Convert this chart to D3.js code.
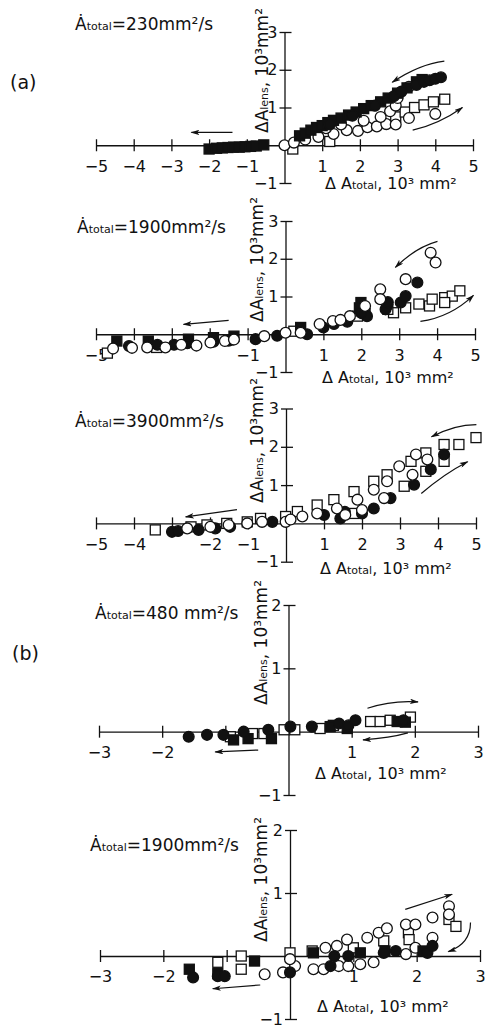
<!DOCTYPE html>
<meta charset="utf-8">
<style>
body { margin: 0; background: #fff; }
svg text { font-family: "DejaVu Sans", sans-serif; fill: #111; }
.axis path, .axis line { stroke: #111; stroke-width: 1.3; }
.pt { stroke: #111; stroke-width: 1.3; }
.arrow { fill: none; stroke: #111; stroke-width: 1.2; }
</style>
<svg width="485" height="1028"></svg>
<script src="https://d3js.org/d3.v7.min.js"></script>
<script>

// rates written in the panel titles
var rates = ["230", "1900", "3900", "480 ", "1900"];

// (a) 230 mm2/s
var p1FilledSq = [[-2.0,-0.1],[-1.8,-0.08],[-1.65,-0.07],[-1.5,-0.06],[-1.35,-0.05],[-1.2,-0.05],[-1.05,-0.04],[-0.9,-0.03],[-0.75,-0.02],[-0.55,0.01],
  [0.4,0.25],[0.55,0.32],[0.7,0.4],[0.85,0.47],[1.0,0.52],[1.15,0.6],[1.3,0.66],[1.5,0.72],[1.7,0.8],[1.9,0.88],[2.1,0.97],[2.3,1.05],[2.55,1.15],[2.75,1.25],[3.0,1.38],[3.25,1.52],[3.5,1.68],[3.65,1.74]];
var p1FilledCi = [[1.2,0.55],[1.8,0.78],[2.4,1.05],[2.9,1.3],[3.1,1.42],[3.5,1.6],[3.7,1.68],[3.85,1.72],[4.0,1.76],[4.15,1.8]];
var p1OpenSq = [[0.22,-0.1],[1.2,0.1],[2.95,0.75],[3.2,0.88],[3.45,1.0],[3.7,1.07],[3.95,1.15],[4.25,1.22]];
var p1OpenCi = [[0,0],[0.25,0.07],[0.55,0.15],[0.9,0.22],[1.3,0.3],[1.65,0.4],[1.95,0.38],[2.2,0.48],[2.45,0.5],[2.7,0.56],[2.95,0.55],[2.55,0.75],[2.8,0.9],[2.95,1.05],[3.0,1.25],[3.3,1.55],[3.3,0.72],[4.0,0.83],[1.1,0.45],[1.5,0.55],[2.1,0.65]];
var p1Arrows = [[[-1.38,0.34],[-2.47,0.34]], [[4.24,2.23],[3.58,2.15],[2.86,1.67]], [[3.4,0.4],[4.1,0.56],[4.72,1.0]]];

// (a) 1900 mm2/s
var p2FilledSq = [[-4.45,-0.18],[-3.62,-0.18],[-2.56,-0.13],[-1.9,-0.09],[-1.36,-0.05],[0.4,0.18],[1.99,0.84],[1.95,0.7],[2.1,0.55]];
var p2FilledCi = [[-4.13,-0.31],[-3.38,-0.28],[-2.94,-0.28],[-2.59,-0.24],[-1.9,-0.2],[-1.5,-0.17],[-0.79,-0.13],[-0.22,-0.04],[0.57,0.0],[1.0,0.18],[1.28,0.27],[1.63,0.33],[2.15,0.48],[2.68,0.75],[3.04,0.84],[3.17,1.01],[3.48,1.37],[2.64,0.66],[1.99,0.57],[2.7,0.85]];
var p2OpenSq = [[-4.7,-0.5],[-3.4,-0.35],[-1.5,-0.15],[0.22,0.08],[1.9,0.48],[2.85,0.57],[3.17,0.7],[3.52,0.8],[3.8,0.75],[3.87,0.93],[4.2,0.97],[4.4,1.01],[4.6,1.15],[4.2,0.84],[2.7,0.66]];
var p2OpenCi = [[-4.55,-0.38],[-4.05,-0.36],[-3.65,-0.35],[-3.17,-0.35],[-2.75,-0.28],[-2.35,-0.3],[-1.98,-0.22],[-1.6,-0.18],[-1.36,-0.14],[-0.56,-0.05],[0.0,0.04],[0.4,0.04],[0.9,0.27],[1.25,0.35],[1.7,0.48],[2.1,0.75],[2.5,1.19],[2.5,0.93],[3.17,1.46],[3.83,2.16],[3.96,1.9],[1.45,0.38]];
var p2Arrows = [[[-1.5,0.37],[-2.69,0.26]], [[4.01,2.46],[3.43,2.3],[2.9,1.77]], [[3.56,0.34],[4.35,0.45],[4.96,1.03]]];

// (a) 3900 mm2/s
var p3FilledCi = [[-3.0,-0.22],[-2.84,-0.2],[-2.3,-0.17],[-1.86,-0.13],[-1.47,-0.09],[-0.36,0.04],[1.0,0.22],[1.43,0.13],[2.0,0.26],[2.31,0.39],[2.75,0.66],[3.37,1.01],[3.81,1.41],[4.16,1.8],[1.55,0.3]];
var p3OpenSq = [[-3.44,-0.17],[-2.5,-0.09],[-2.08,-0.04],[-1.56,0.0],[-1.02,0.04],[-0.67,0.13],[-0.01,0.18],[0.3,0.31],[0.82,0.48],[1.26,0.62],[1.79,0.83],[2.31,1.1],[2.66,1.27],[3.29,1.62],[3.68,1.84],[4.16,2.06],[4.55,2.06],[5.0,2.24],[3.11,0.97],[3.68,1.36],[4.16,1.62],[1.79,0.26]];
var p3OpenCi = [[-2.6,-0.13],[-1.99,-0.09],[-1.51,-0.04],[-1.02,0.0],[-0.63,0.04],[-0.01,0.04],[0.12,0.1],[0.43,0.18],[0.82,0.26],[1.34,0.39],[1.56,0.22],[1.88,0.62],[2.0,0.35],[2.31,0.88],[2.58,0.66],[2.66,1.1],[2.98,1.49],[3.33,1.27],[3.42,1.8],[3.72,1.67]];
var p3Arrows = [[[-1.29,0.36],[-2.64,0.17]], [[5.01,2.58],[4.43,2.58],[3.83,2.26]], [[3.56,0.78],[4.17,1.3],[4.78,1.61]]];

// (b) 480 mm2/s
var p4FilledCi = [[-1.58,-0.08],[-1.29,-0.05],[-1.03,-0.05],[-0.71,0.0],[-0.32,0.03],[0.03,0.08],[0.37,0.08],[0.8,0.13],[0.95,0.1],[1.06,0.18],[1.82,0.18]];
var p4FilledSq = [[-0.87,-0.13],[-0.64,-0.11],[-0.27,-0.11],[0.66,0.08],[0.93,0.05],[1.72,0.16],[1.85,0.15]];
var p4OpenSq = [[-0.92,-0.08],[-0.57,-0.03],[-0.39,-0.03],[-0.07,0.03],[0.1,0.03],[0.5,0.05],[0.71,0.1],[1.3,0.16],[1.45,0.16],[1.61,0.18],[1.93,0.23]];
var p4Arrows = [[[1.25,0.37],[1.64,0.5],[2.05,0.47]], [[1.89,-0.02],[1.61,-0.1],[1.18,-0.13]], [[-0.48,-0.29],[-1.16,-0.32]]];

// (b) 1900 mm2/s
var p5FilledSq = [[-1.59,-0.21],[-1.14,-0.28],[-0.56,-0.08],[0.37,0.05],[1.11,0.05],[1.5,0.08],[2.1,0.08]];
var p5FilledCi = [[-1.53,-0.34],[-1.14,-0.32],[-1.03,-0.32],[0.0,-0.26],[0.64,-0.16],[0.7,0.0],[0.92,0.0],[1.48,0.05],[1.67,0.08],[2.17,0.05],[2.25,0.16]];
var p5OpenSq = [[-1.14,-0.1],[-0.77,0.0],[-0.77,-0.21],[0.0,0.05],[0.35,0.08],[1.0,0.13],[1.48,0.24],[1.87,0.37],[1.88,0.26],[2.51,0.58],[2.62,0.47]];
var p5OpenCi = [[-0.4,-0.29],[-0.11,-0.26],[0.08,-0.16],[0.0,-0.05],[0.37,-0.21],[0.53,-0.21],[0.56,0.13],[0.74,0.16],[0.77,-0.16],[0.9,0.26],[0.92,-0.16],[1.11,-0.13],[1.22,0.29],[1.32,-0.1],[1.4,0.37],[1.53,0.44],[1.83,0.5],[1.98,0.5],[1.83,0.03],[1.98,0.13],[2.25,0.61],[2.25,0.29],[2.51,0.79],[2.51,0.66]];
var p5Arrows = [[[1.82,0.74],[2.56,0.98]], [[2.85,0.53],[2.85,0.19],[2.5,0.07]], [[-0.47,-0.46],[-1.22,-0.52]]];

// ticks and which of them carry a label
var xTicksA = [-5,-4,-3,-2,-1,1,2,3,4,5];
var xTicksB = [-3,-2,-1,1,2,3];
var p1XLabels = [-5,-4,-3,-2,-1,1,2,3,4,5];
var p2XLabels = [-5,-1,1,2,3,4,5];
var p3XLabels = [-5,-4,-2,-1,1,2,3,4,5];
var bXLabels = [-3,-2,1,2,3];
var yTicksA = [-1,1,2,3];
var yTicksB = [-1,1,2];

var svg = d3.select("svg");

svg.append("defs").append("marker")
    .attr("id", "head")
    .attr("viewBox", "0 0 10 6")
    .attr("refX", 9).attr("refY", 3)
    .attr("markerWidth", 9).attr("markerHeight", 5.5)
    .attr("markerUnits", "userSpaceOnUse")
    .attr("orient", "auto")
  .append("path")
    .attr("d", "M0,0L10,3L0,6L2.5,3Z")
    .attr("fill", "#111");

var panels = [
  {xd: [-5,5], xr: [96,473], yd: [-1,3], yr: [183,32], xt: xTicksA, xl: p1XLabels, yt: yTicksA,
   title: [75,30], ylab: [268,133], xlab: [325,189], rate: rates[0],
   sets: [[p1OpenSq,"sq",false],[p1OpenCi,"ci",false],[p1FilledSq,"sq",true],[p1FilledCi,"ci",true]], arrows: p1Arrows},
  {xd: [-5,5], xr: [96,475], yd: [-1,3], yr: [372,221], xt: xTicksA, xl: p2XLabels, yt: yTicksA,
   title: [77,233], ylab: [263,322], xlab: [322,383], rate: rates[1],
   sets: [[p2OpenSq,"sq",false],[p2FilledSq,"sq",true],[p2FilledCi,"ci",true],[p2OpenCi,"ci",false]], arrows: p2Arrows},
  {xd: [-5,5], xr: [96,476], yd: [-1,3], yr: [561.7,408.5], xt: xTicksA, xl: p3XLabels, yt: yTicksA,
   title: [75,427], ylab: [263,503], xlab: [320,574], rate: rates[2],
   sets: [[p3OpenSq,"sq",false],[p3FilledCi,"ci",true],[p3OpenCi,"ci",false]], arrows: p3Arrows},
  {xd: [-3,3], xr: [99,478], yd: [-1,2], yr: [795,605], xt: xTicksB, xl: bXLabels, yt: yTicksB,
   title: [95,619], ylab: [267,705], xlab: [315,779], rate: rates[3],
   sets: [[p4OpenSq,"sq",false],[p4FilledSq,"sq",true],[p4FilledCi,"ci",true]], arrows: p4Arrows},
  {xd: [-3,3], xr: [100,480], yd: [-1,2], yr: [1019,830], xt: xTicksB, xl: bXLabels, yt: yTicksB,
   title: [90,851], ylab: [267,942], xlab: [317,1012], rate: rates[4],
   sets: [[p5OpenSq,"sq",false],[p5OpenCi,"ci",false],[p5FilledSq,"sq",true],[p5FilledCi,"ci",true]], arrows: p5Arrows}
];

function fmt(d) { return d < 0 ? "\u2212" + (-d) : "" + d; }

panels.forEach(function(p) {
  var x = d3.scaleLinear().domain(p.xd).range(p.xr),
      y = d3.scaleLinear().domain(p.yd).range(p.yr),
      g = svg.append("g");

  var gx = g.append("g").attr("class", "axis")
      .attr("transform", "translate(0," + y(0) + ")")
      .call(d3.axisBottom(x).tickValues(p.xt).tickSize(6).tickSizeOuter(0).tickPadding(9)
        .tickFormat(function(d) { return p.xl.indexOf(d) >= 0 ? fmt(d) : ""; }));
  gx.attr("font-size", 16).attr("font-family", null);
  gx.selectAll(".tick line").attr("y1", -6);

  var gy = g.append("g").attr("class", "axis")
      .attr("transform", "translate(" + x(0) + ",0)")
      .call(d3.axisLeft(y).tickValues(p.yt).tickSize(5).tickSizeOuter(0).tickPadding(2).tickFormat(fmt));
  gy.attr("font-size", 16).attr("font-family", null);
  gy.selectAll(".tick line").attr("x1", 7);

  // title
  var t = g.append("text").attr("x", p.title[0]).attr("y", p.title[1]).attr("font-size", 17);
  t.append("tspan").text("\u0226");
  t.append("tspan").attr("font-size", 11).text("total");
  t.append("tspan").text("=" + p.rate + "mm\u00b2/s");

  // axis titles
  var yl = g.append("text").attr("font-size", 17)
      .attr("transform", "translate(" + p.ylab[0] + "," + p.ylab[1] + ") rotate(-90)");
  yl.append("tspan").text("\u0394A");
  yl.append("tspan").attr("font-size", 11).text("lens");
  yl.append("tspan").text(", 10\u00b3mm\u00b2");

  var xl = g.append("text").attr("font-size", 16).attr("x", p.xlab[0]).attr("y", p.xlab[1]);
  xl.append("tspan").text("\u0394 A");
  xl.append("tspan").attr("font-size", 11).text("total");
  xl.append("tspan").text(", 10\u00b3 mm\u00b2");

  // arrows
  g.selectAll(".arrow").data(p.arrows).enter().append("path")
      .attr("class", "arrow")
      .attr("marker-end", "url(#head)")
      .attr("d", function(a) {
        var s = "M" + x(a[0][0]) + "," + y(a[0][1]);
        if (a.length === 3) s += "Q" + x(a[1][0]) + "," + y(a[1][1]) + " " + x(a[2][0]) + "," + y(a[2][1]);
        else s += "L" + x(a[1][0]) + "," + y(a[1][1]);
        return s;
      });

  // points
  p.sets.forEach(function(s) {
    var fill = s[2] ? "#111" : "#fff";
    if (s[1] === "ci") {
      g.append("g").selectAll("circle").data(s[0]).enter().append("circle")
          .attr("class", "pt").attr("fill", fill)
          .attr("cx", function(d) { return x(d[0]); })
          .attr("cy", function(d) { return y(d[1]); })
          .attr("r", 5.4);
    } else {
      g.append("g").selectAll("rect").data(s[0]).enter().append("rect")
          .attr("class", "pt").attr("fill", fill)
          .attr("x", function(d) { return x(d[0]) - 5; })
          .attr("y", function(d) { return y(d[1]) - 5; })
          .attr("width", 10).attr("height", 10);
    }
  });
});

// panel letters
svg.append("text").attr("x", 10).attr("y", 89).attr("font-size", 19).text("(a)");
svg.append("text").attr("x", 12).attr("y", 660).attr("font-size", 19).text("(b)");

</script>
